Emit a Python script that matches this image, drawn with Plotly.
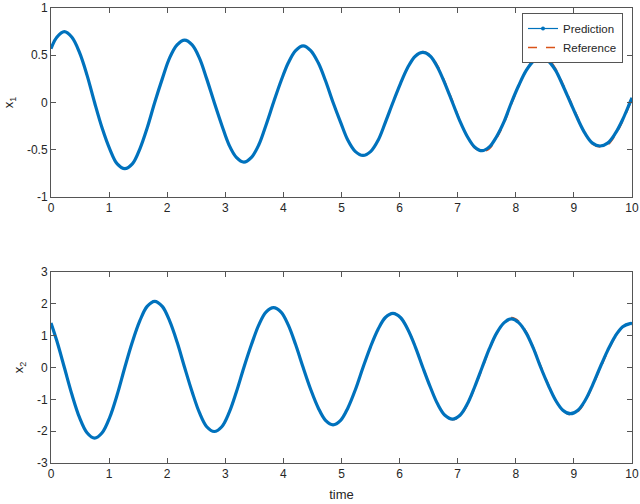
import plotly.graph_objects as go
from plotly.subplots import make_subplots

# time samples (extrema, zero crossings and points between)
t = [0, 0.10,
     0.23, 0.36, 0.49, 0.62, 0.75, 0.88, 1.01, 1.14, 1.27,
     1.40, 1.53, 1.655, 1.785, 1.915, 2.04, 2.17, 2.30,
     2.43, 2.555, 2.68, 2.81, 2.94, 3.065, 3.19, 3.32,
     3.45, 3.575, 3.70, 3.83, 3.96, 4.085, 4.21, 4.34,
     4.47, 4.60, 4.725, 4.855, 4.985, 5.11, 5.24, 5.37,
     5.50, 5.63, 5.755, 5.885, 6.015, 6.14, 6.27, 6.40,
     6.53, 6.655, 6.78, 6.91, 7.04, 7.165, 7.29, 7.42,
     7.545, 7.67, 7.80, 7.925, 8.05, 8.18, 8.305, 8.43,
     8.56, 8.685, 8.81, 8.94, 9.07, 9.195, 9.32, 9.45,
     9.58, 9.71, 9.84, 9.965, 10.0]

x1_pred = [0.57, 0.69,
           0.75, 0.69, 0.53, 0.29, 0.0, -0.27, -0.49, -0.65, -0.70,
           -0.65, -0.49, -0.27, 0.0, 0.25, 0.47, 0.61, 0.66,
           0.61, 0.47, 0.25, 0.0, -0.24, -0.45, -0.58, -0.63,
           -0.58, -0.45, -0.24, 0.0, 0.23, 0.42, 0.55, 0.60,
           0.55, 0.42, 0.23, 0.0, -0.21, -0.40, -0.52, -0.56,
           -0.52, -0.40, -0.21, 0.0, 0.20, 0.37, 0.49, 0.53,
           0.49, 0.37, 0.20, 0.0, -0.20, -0.36, -0.47, -0.51,
           -0.47, -0.36, -0.20, 0.0, 0.18, 0.34, 0.44, 0.48,
           0.44, 0.34, 0.18, 0.0, -0.18, -0.33, -0.43, -0.46,
           -0.43, -0.33, -0.18, 0.0, 0.05]
x1_ref = [0.57, 0.69,
          0.75, 0.69, 0.53, 0.29, 0.0, -0.27, -0.49, -0.65, -0.70,
          -0.65, -0.49, -0.27, 0.0, 0.25, 0.47, 0.61, 0.66,
          0.61, 0.47, 0.25, 0.0, -0.24, -0.45, -0.58, -0.63,
          -0.58, -0.45, -0.24, 0.0, 0.23, 0.42, 0.55, 0.60,
          0.55, 0.42, 0.23, 0.0, -0.21, -0.40, -0.52, -0.56,
          -0.52, -0.40, -0.21, 0.0, 0.20, 0.37, 0.49, 0.54,
          0.50, 0.39, 0.22, 0.02, -0.19, -0.36, -0.48, -0.52,
          -0.49, -0.38, -0.22, -0.02, 0.17, 0.34, 0.45, 0.49,
          0.46, 0.36, 0.20, 0.02, -0.16, -0.33, -0.44, -0.47,
          -0.45, -0.35, -0.20, -0.02, 0.03]

x2_pred = [1.40, 0.84,
           0.0, -0.85, -1.57, -2.05, -2.22, -2.05, -1.57, -0.85, 0.0,
           0.80, 1.47, 1.92, 2.08, 1.92, 1.47, 0.80, 0.0,
           -0.77, -1.42, -1.86, -2.01, -1.86, -1.42, -0.77, 0.0,
           0.72, 1.33, 1.74, 1.88, 1.74, 1.33, 0.72, 0.0,
           -0.69, -1.27, -1.66, -1.80, -1.66, -1.27, -0.69, 0.0,
           0.65, 1.20, 1.57, 1.70, 1.57, 1.20, 0.65, 0.0,
           -0.62, -1.15, -1.50, -1.62, -1.50, -1.15, -0.62, 0.0,
           0.59, 1.08, 1.41, 1.53, 1.41, 1.08, 0.59, 0.0,
           -0.56, -1.03, -1.34, -1.45, -1.34, -1.03, -0.56, 0.0,
           0.53, 0.98, 1.28, 1.38, 1.38]
x2_ref = [1.40, 0.84,
          0.0, -0.85, -1.57, -2.05, -2.22, -2.05, -1.57, -0.85, 0.0,
          0.80, 1.47, 1.92, 2.08, 1.92, 1.47, 0.80, 0.0,
          -0.77, -1.42, -1.86, -2.01, -1.86, -1.42, -0.77, 0.0,
          0.72, 1.33, 1.74, 1.88, 1.74, 1.33, 0.72, 0.0,
          -0.69, -1.27, -1.66, -1.80, -1.66, -1.27, -0.69, 0.0,
          0.65, 1.20, 1.57, 1.71, 1.59, 1.23, 0.68, 0.03,
          -0.60, -1.14, -1.50, -1.64, -1.53, -1.19, -0.66, -0.05,
          0.55, 1.06, 1.42, 1.57, 1.46, 1.13, 0.63, 0.05,
          -0.52, -1.01, -1.35, -1.49, -1.39, -1.08, -0.60, -0.06,
          0.48, 0.95, 1.27, 1.41, 1.42]

x_ticks = [0, 1, 2, 3, 4, 5, 6, 7, 8, 9, 10]
y1_ticks = [-1, -0.5, 0, 0.5, 1]
y1_text = ['-1', '-0.5', '0', '0.5', '1']
y2_ticks = [-3, -2, -1, 0, 1, 2, 3]
y2_text = ['-3', '-2', '-1', '0', '1', '2', '3']

BLUE = '#0072BD'
ORANGE = '#D95319'
AX = '#262626'

fig = make_subplots(rows=2, cols=1)

for row, (yp, yr) in enumerate([(x1_pred, x1_ref), (x2_pred, x2_ref)], start=1):
  fig.add_trace(go.Scatter(x=t, y=yr, mode='lines', line=dict(color=ORANGE, width=1.5, dash='dash', shape='spline'),
                           showlegend=False), row=row, col=1)
  fig.add_trace(go.Scatter(x=t, y=yp, mode='lines', line=dict(color=BLUE, width=3.2, shape='spline'),
                           showlegend=False), row=row, col=1)

# legend entries with thin lines, like the matlab legend
fig.add_trace(go.Scatter(x=[None], y=[None], mode='lines+markers', name='Prediction',
                         line=dict(color=BLUE, width=1.2), marker=dict(size=4, color=BLUE)), row=1, col=1)
fig.add_trace(go.Scatter(x=[None], y=[None], mode='lines', name='Reference',
                         line=dict(color=ORANGE, width=1.5, dash='dash')), row=1, col=1)

axis_style = dict(showline=True, mirror='ticks', linecolor='#555555', linewidth=1, ticks='inside', ticklen=5,
                  tickcolor='#555555', showgrid=False, zeroline=False, automargin=False,
                  tickfont=dict(size=12, color=AX))

fig.update_xaxes(range=[0, 10], tickvals=x_ticks, **axis_style)
fig.update_xaxes(title=dict(text='time', font=dict(size=13, color=AX), standoff=9), row=2, col=1)
fig.update_yaxes(range=[-1, 1], tickvals=y1_ticks, ticktext=y1_text,
                 title=dict(text='x<sub>1</sub>', font=dict(size=13, color=AX), standoff=10),
                 row=1, col=1, **axis_style)
fig.update_yaxes(range=[-3, 3], tickvals=y2_ticks, ticktext=y2_text,
                 title=dict(text='x<sub>2</sub>', font=dict(size=13, color=AX), standoff=10),
                 row=2, col=1, **axis_style)

fig.update_layout(
  width=640, height=504,
  margin=dict(l=51, r=8, t=8, b=41),
  paper_bgcolor='white', plot_bgcolor='white',
  font=dict(family='Liberation Sans, Arial, sans-serif', color=AX),
  xaxis=dict(domain=[0, 1]), yaxis=dict(domain=[0.5846, 1]),
  xaxis2=dict(domain=[0, 1]), yaxis2=dict(domain=[0, 0.4198]),
  legend=dict(x=0.9845, y=0.989, xanchor='right', yanchor='top', bgcolor='white', bordercolor='#555555', borderwidth=1,
              font=dict(size=11.5), tracegroupgap=0),
)

# drop the default page margin so the figure sits at the window corner
fig.write_html("out.html", config={'displayModeBar': False},
               post_script="document.body.style.margin='0';")
